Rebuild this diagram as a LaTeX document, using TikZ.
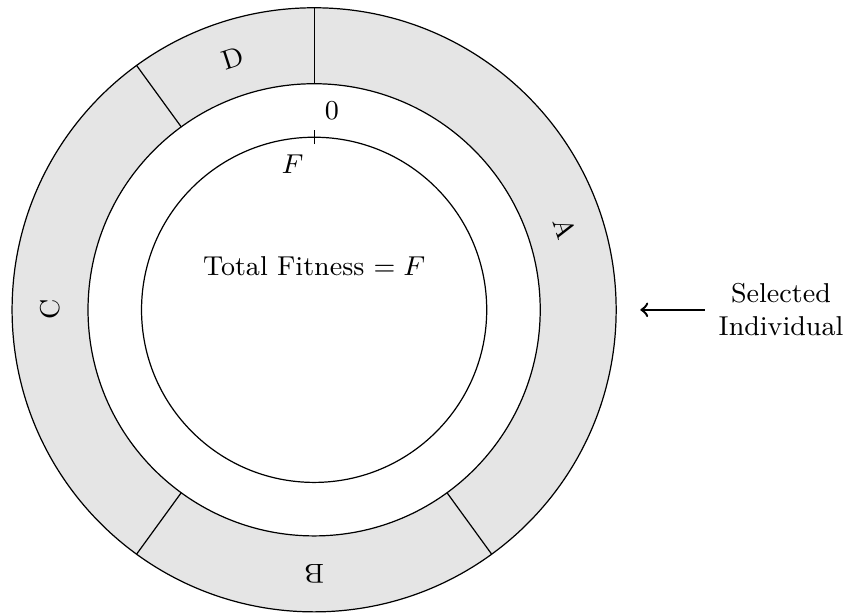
\documentclass[tikz,border=0pt]{standalone}
\usepackage{amsmath,amssymb}
\usepackage{tikz}

\begin{document}
\begin{tikzpicture}[font=\small]
  \useasboundingbox (-3.64,-3.53) rectangle (6.14,3.59);
  % 1. The shaded ring of the wheel
  \fill[gray!20,even odd rule] (0,0) circle (3.5) (0,0) circle (2.62);
  \draw (0,0) circle (3.5);
  \draw (0,0) circle (2.62);
  % 2. Borders between the slices (40%, 20%, 30%, 10%)
  \draw (90:2.62) -- (90:3.5);
  \draw (-54:2.62) -- (-54:3.5);
  \draw (234:2.62) -- (234:3.5);
  \draw (126:2.62) -- (126:3.5);
  % slice labels, turned with the wheel
  \node[rotate=-72] (A) at (18:3.06) {A};
  \node[rotate=-180] (B) at (-90:3.06) {B};
  \node[rotate=90] (C) at (180:3.06) {C};
  \node[rotate=18] (D) at (108:3.06) {D};
  % 3. Inner circle with the start mark
  \draw (0,0) circle (2);
  \draw (0,1.92) coordinate (tickb) -- (0,2.08) coordinate (ticka);
  \node[above right] (zero) at (ticka) {$0$};
  \node[below left] (total) at (tickb) {$F$};
  \node (fit) at (0,0.5) {Total Fitness $=F$};
  % 4. The pointer
  \node[align=center] (sel) at (5.41,0) {Selected\\Individual};
  \coordinate (tip) at (3.78,0);
  \draw[->,thick,shorten <=1pt] (sel.west) -- (tip);
\end{tikzpicture}
\end{document}
